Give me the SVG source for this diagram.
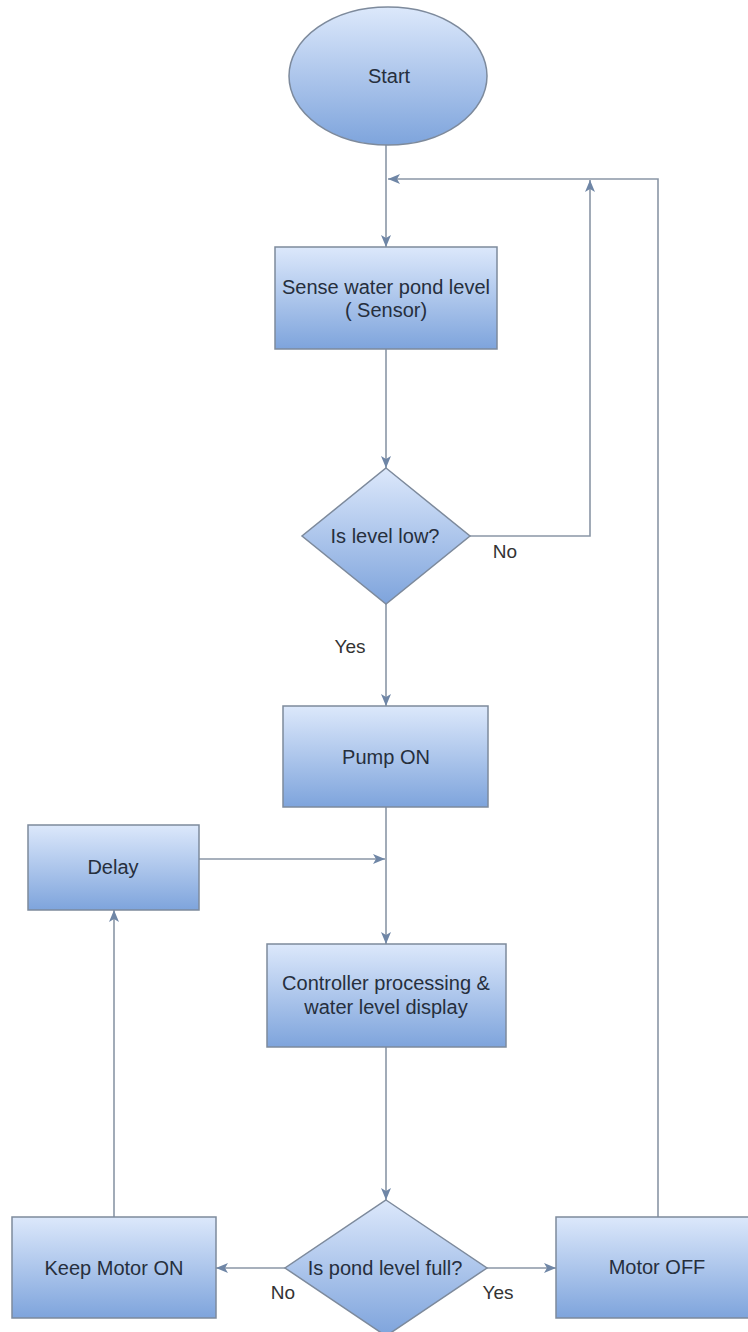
<svg xmlns="http://www.w3.org/2000/svg" width="748" height="1332" viewBox="0 0 748 1332">
  <defs>
    <linearGradient id="g" x1="0" y1="0" x2="0" y2="1">
      <stop offset="0" stop-color="#dce8fb"/>
      <stop offset="1" stop-color="#7ea4dc"/>
    </linearGradient>
    <marker id="arr" viewBox="0 0 12 10" refX="12" refY="5" markerWidth="12" markerHeight="10" markerUnits="userSpaceOnUse" orient="auto">
      <path d="M0,0 L12,5 L0,10 L3,5 Z" fill="#6f86a6"/>
    </marker>
    <style>
      .shape { fill: url(#g); stroke: #7d8a9c; stroke-width: 1.5; }
      .t { font-family: "Liberation Sans", Arial, sans-serif; font-size: 20px; fill: #262f3d; text-anchor: middle; }
      .lbl { font-family: "Liberation Sans", Arial, sans-serif; font-size: 19px; fill: #333333; text-anchor: middle; }
      .edge { fill: none; stroke: #8a96a6; stroke-width: 1.6; }
    </style>
  </defs>
  <rect width="748" height="1332" fill="#ffffff"/>

  <g id="connectors">
    <path class="edge" d="M386,145 L386,247" marker-end="url(#arr)"/>
    <path class="edge" d="M658,1217 L658,179 L388,179" marker-end="url(#arr)"/>
    <path class="edge" d="M470,536 L590,536 L590,180" marker-end="url(#arr)"/>
    <path class="edge" d="M386,349 L386,468" marker-end="url(#arr)"/>
    <path class="edge" d="M386,604 L386,706" marker-end="url(#arr)"/>
    <path class="edge" d="M386,807 L386,944" marker-end="url(#arr)"/>
    <path class="edge" d="M199,859 L385,859" marker-end="url(#arr)"/>
    <path class="edge" d="M386,1047 L386,1200" marker-end="url(#arr)"/>
    <path class="edge" d="M285,1268 L216,1268" marker-end="url(#arr)"/>
    <path class="edge" d="M487,1268 L556,1268" marker-end="url(#arr)"/>
    <path class="edge" d="M114,1217 L114,910" marker-end="url(#arr)"/>
    <text class="lbl" x="505" y="558">No</text>
    <text class="lbl" x="350" y="653">Yes</text>
    <text class="lbl" x="283" y="1299">No</text>
    <text class="lbl" x="498" y="1299">Yes</text>
  </g>

  <g id="start">
    <ellipse class="shape" cx="388" cy="76" rx="99" ry="69"/>
    <text class="t" x="389" y="83">Start</text>
  </g>
  <g id="sense">
    <rect class="shape" x="275" y="247" width="222" height="102"/>
    <text class="t" x="386" y="294">Sense water pond level</text>
    <text class="t" x="386" y="317">( Sensor)</text>
  </g>
  <g id="isLow">
    <path class="shape" d="M386,468 L470,536 L386,604 L302,536 Z"/>
    <text class="t" x="385" y="543">Is level low?</text>
  </g>
  <g id="pump">
    <rect class="shape" x="283" y="706" width="205" height="101"/>
    <text class="t" x="386" y="764">Pump ON</text>
  </g>
  <g id="delay">
    <rect class="shape" x="28" y="825" width="171" height="85"/>
    <text class="t" x="113" y="874">Delay</text>
  </g>
  <g id="controller">
    <rect class="shape" x="267" y="944" width="239" height="103"/>
    <text class="t" x="386" y="990">Controller processing &amp;</text>
    <text class="t" x="386" y="1014">water level display</text>
  </g>
  <g id="isFull">
    <path class="shape" d="M386,1200 L487,1268 L386,1336 L285,1268 Z"/>
    <text class="t" x="385" y="1275">Is pond level full?</text>
  </g>
  <g id="keepOn">
    <rect class="shape" x="12" y="1217" width="204" height="101"/>
    <text class="t" x="114" y="1275">Keep Motor ON</text>
  </g>
  <g id="motorOff">
    <rect class="shape" x="556" y="1217" width="202" height="101"/>
    <text class="t" x="657" y="1274">Motor OFF</text>
  </g>
</svg>
